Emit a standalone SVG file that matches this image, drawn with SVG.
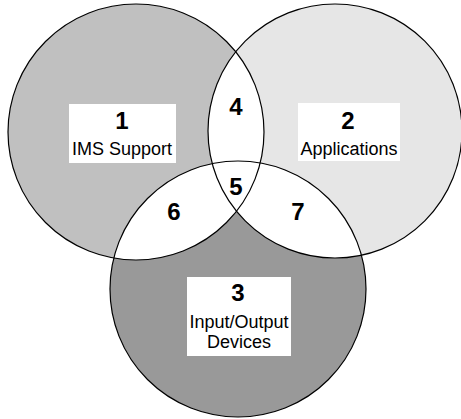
<svg xmlns="http://www.w3.org/2000/svg" width="461" height="419" viewBox="0 0 461 419">
<style>
.ring{fill:none;stroke:#000;stroke-width:1.2}
.lens{fill:#fff}
.box{fill:#fff}
.num{font-family:"Liberation Sans",Arial,sans-serif;font-size:24px;font-weight:bold;text-anchor:middle;fill:#000}
.lbl{font-family:"Liberation Sans",Arial,sans-serif;font-size:18px;text-anchor:middle;fill:#000}
</style>
<defs>
<clipPath id="cA"><circle cx="136" cy="132" r="128"/></clipPath>
<clipPath id="cB"><circle cx="335" cy="131" r="127"/></clipPath>
<clipPath id="cC"><circle cx="238" cy="289" r="128"/></clipPath>
</defs>
<g id="circles">
<circle id="c1" cx="136" cy="132" r="128" fill="#c0c0c0"/>
<circle id="c2" cx="335" cy="131" r="127" fill="#e6e6e6"/>
<circle id="c3" cx="238" cy="289" r="128" fill="#999999"/>
<circle class="lens" cx="335" cy="131" r="127" clip-path="url(#cA)"/>
<circle class="lens" cx="238" cy="289" r="128" clip-path="url(#cA)"/>
<circle class="lens" cx="238" cy="289" r="128" clip-path="url(#cB)"/>
<circle class="ring" cx="136" cy="132" r="128"/>
<circle class="ring" cx="335" cy="131" r="127"/>
<circle class="ring" cx="238" cy="289" r="128"/>
</g>
<g id="node1">
<rect class="box" x="69" y="104" width="107" height="59"/>
<text class="num" x="122" y="129">1</text>
<text class="lbl" x="122" y="155">IMS Support</text>
</g>
<g id="node2">
<rect class="box" x="298" y="103" width="102" height="58"/>
<text class="num" x="348" y="129">2</text>
<text class="lbl" x="349" y="155">Applications</text>
</g>
<g id="node3">
<rect class="box" x="187" y="277" width="104" height="79"/>
<text class="num" x="238" y="301">3</text>
<text class="lbl" x="239" y="328">Input/Output</text>
<text class="lbl" x="239" y="348">Devices</text>
</g>
<g id="node4"><text class="num" x="236" y="115">4</text></g>
<g id="node5"><text class="num" x="236" y="195">5</text></g>
<g id="node6"><text class="num" x="174" y="220">6</text></g>
<g id="node7"><text class="num" x="298" y="220">7</text></g>
</svg>
